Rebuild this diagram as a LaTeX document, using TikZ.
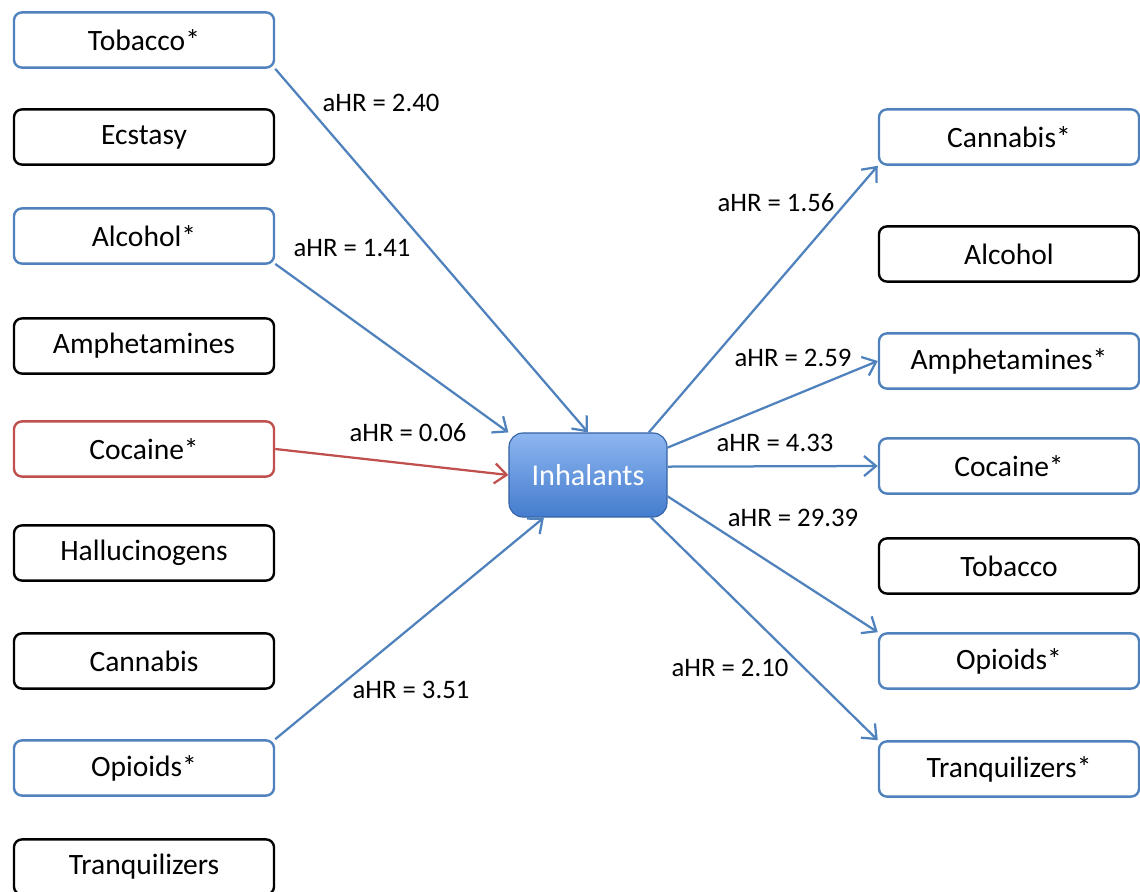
\documentclass[tikz,border=0pt]{standalone}
\usepackage{fontspec}
\setmainfont{Carlito}
\usepackage{xcolor}
\usepackage{tikz}
\usetikzlibrary{arrows.meta}
\usetikzlibrary{positioning}
\definecolor{boxblue}{RGB}{79,129,189}
\definecolor{boxred}{RGB}{192,80,77}
\definecolor{inhtop}{RGB}{141,182,240}
\definecolor{inhbot}{RGB}{68,124,206}

\begin{document}
\begin{tikzpicture}[x=0.025cm,y=-0.025cm,
	drug/.style={draw,rounded corners=0.2cm,line width=1.7pt,minimum width=6.5cm,minimum height=1.38cm,fill=white,font=\fontsize{21}{25}\selectfont},
	sig/.style={drug,draw=boxblue},
	sigred/.style={drug,draw=boxred},
	hr/.style={font=\fontsize{19}{23}\selectfont},
	link/.style={-{Straight Barb[length=3mm,width=5mm]},line width=1.6pt,boxblue}]
	\useasboundingbox (0,0) rectangle (1140,892);
	% left column
	\node[sig] (ltob) at (144,40) {Tobacco*};
	\node[drug] (lecs) at (144,137) {Ecstasy};
	\node[sig] (lalc) at (144,236) {Alcohol*};
	\node[drug] (lamp) at (144,346) {Amphetamines};
	\node[sigred] (lcoc) at (144,449) {Cocaine*};
	\node[drug] (lhal) at (144,553) {Hallucinogens};
	\node[drug] (lcan) at (144,661) {Cannabis};
	\node[sig] (lopi) at (144,768) {Opioids*};
	\node[drug] (ltra) at (144,867) {Tranquilizers};
	% right column
	\node[sig] (rcan) at (1009,137) {Cannabis*};
	\node[drug] (ralc) at (1009,254) {Alcohol};
	\node[sig] (ramp) at (1009,361) {Amphetamines*};
	\node[sig] (rcoc) at (1009,466) {Cocaine*};
	\node[drug] (rtob) at (1009,566) {Tobacco};
	\node[sig] (ropi) at (1009,661) {Opioids*};
	\node[sig] (rtra) at (1009,769) {Tranquilizers*};
	% centre
	\node[draw=inhbot!80!black,line width=0.8pt,rounded corners=0.35cm,top color=inhtop,bottom color=inhbot,minimum width=3.95cm,minimum height=2.1cm,text=white,font=\fontsize{21.5}{25}\selectfont] (inh) at (588,475) {Inhalants};
	% incoming
	\draw[link] (ltob.south east) -- (inh.north);
	\draw[link] (lalc.-12) -- (inh.north west);
	\draw[link,boxred] (lcoc.east) -- (inh.west);
	\draw[link] (lopi.north east) -- (inh.-136);
	% outgoing
	\draw[link] (inh.35) -- (rcan.south west);
	\draw[link] (inh.19) -- (ramp.west);
	\draw[link] (inh.6) -- (rcoc.west);
	\draw[link] (inh.-15) -- (ropi.north west);
	\draw[link] (inh.-34) -- (rtra.north west);
	% hazard ratios
	\node[hr] (h1) at (381,103) {aHR = 2.40};
	\node[hr] (h2) at (352,248) {aHR = 1.41};
	\node[hr] (h3) at (408,433) {aHR = 0.06};
	\node[hr] (h4) at (411,690) {aHR = 3.51};
	\node[hr] (h5) at (776,203) {aHR = 1.56};
	\node[hr] (h6) at (793,358) {aHR = 2.59};
	\node[hr] (h7) at (775,443) {aHR = 4.33};
	\node[hr] (h8) at (793,518) {aHR = 29.39};
	\node[hr] (h9) at (730,668) {aHR = 2.10};
\end{tikzpicture}
\end{document}
